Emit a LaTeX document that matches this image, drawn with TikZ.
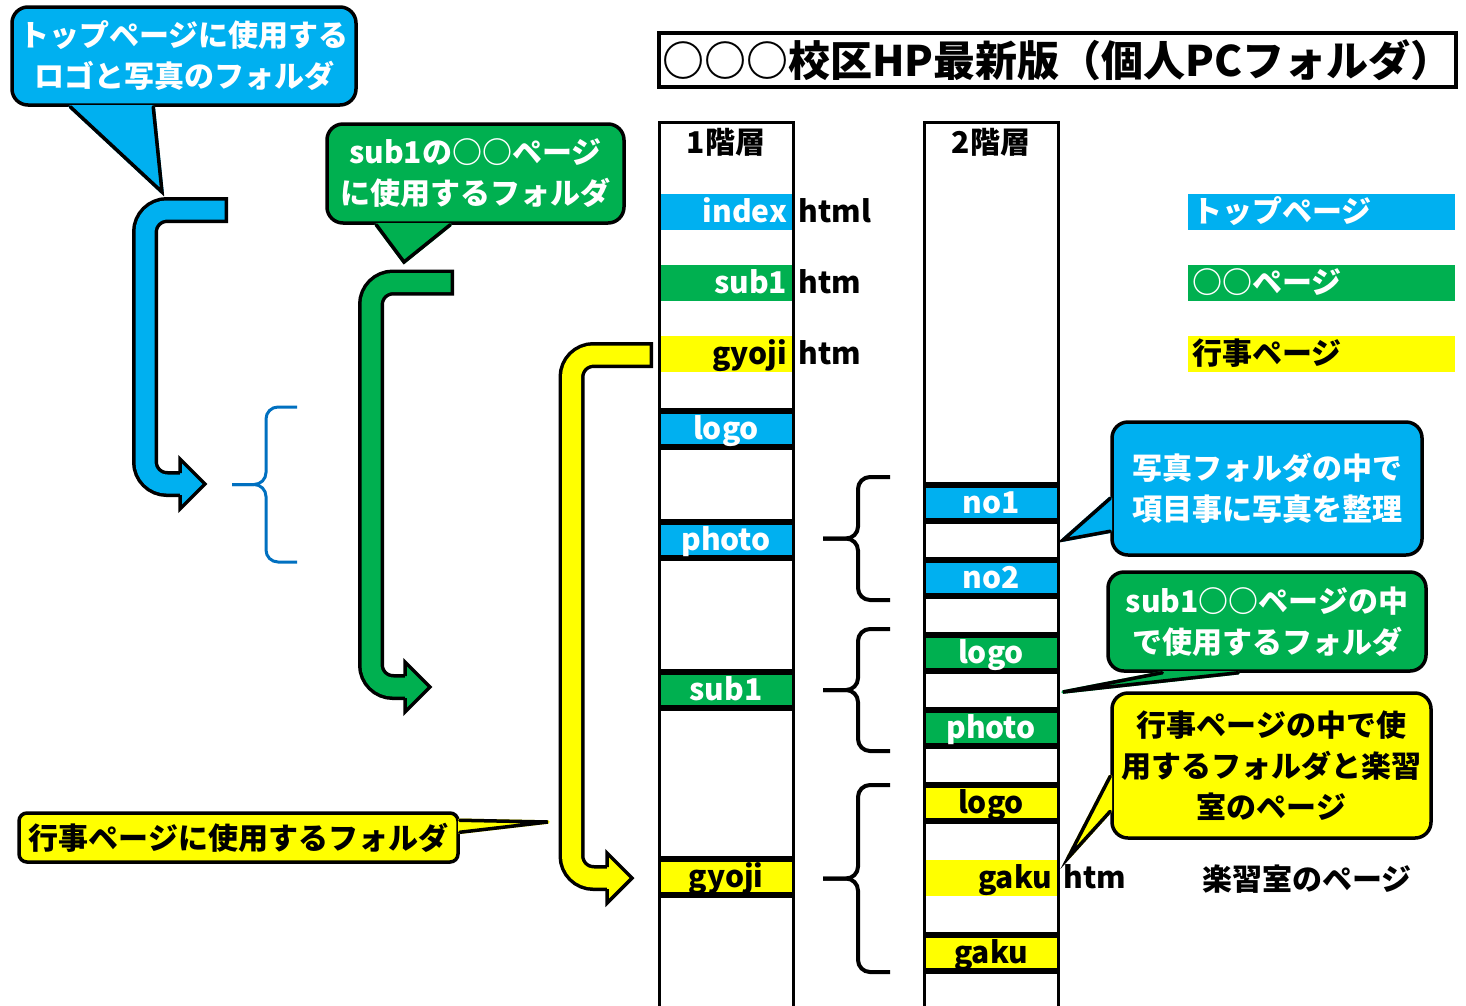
\documentclass[tikz,border=0pt]{standalone}
\usepackage{fontspec}
\setmainfont{Noto Sans CJK JP}
\usetikzlibrary{positioning}
\definecolor{hpblue}{HTML}{00B0F0}
\definecolor{hpgreen}{HTML}{00B050}
\definecolor{hpyellow}{HTML}{FFFF00}
\definecolor{bracblue}{HTML}{0070C0}
%% tail of a speech bubble: colour, base point, tip, base point
\newcommand{\bubbletail}[4]{%
  \filldraw[fill=#1,draw=#1,line width=3.5pt,line join=round] (#2) -- (#3) -- (#4) -- cycle;
  \draw[line width=3.5pt,line cap=round] (#2) -- (#3) -- (#4);}
\begin{document}
\begin{tikzpicture}[x=1pt,y=-1pt,
    every node/.style={font=\fontsize{30pt}{41pt}\selectfont\bfseries},
    file/.style={minimum height=36pt,text width=122pt,inner xsep=6pt,inner ysep=0pt,align=right,text height=24pt,text depth=3pt},
    ext/.style={inner xsep=5pt,inner ysep=0pt,text height=24pt,text depth=3pt},
    folder/.style={minimum width=134pt,minimum height=42pt,inner sep=0pt,fill=black,text height=24pt,text depth=3pt,
      path picture={\fill[#1] ([yshift=-6pt]path picture bounding box.north west) rectangle ([yshift=6pt]path picture bounding box.south east);}},
    legend/.style={minimum height=36pt,text width=259pt,inner xsep=4pt,inner ysep=0pt,align=left,text height=24pt,text depth=3pt},
    bubble/.style={draw,line width=3.5pt,rounded corners=16pt,align=center,inner sep=0pt},
    brc/.style={line width=4pt,rounded corners=12pt},
    col/.style={line width=3pt}]
    \useasboundingbox[fill=white] (0,0) rectangle (1466,1005);

    %% title
    \node[draw,line width=3.5pt,minimum width=797pt,minimum height=54pt,inner sep=0pt,
      font=\fontsize{42pt}{50pt}\selectfont\bfseries] (title) at (1057.5,60) {○○○校区HP最新版（個人PCフォルダ）};

    %% 1st level
    \node[file,fill=hpblue,text=white] (idx) at (726,212) {index};
    \node[ext,right=0pt of idx] (idxext) {html};
    \node[file,fill=hpgreen,text=white] (subf) at (726,283) {sub1};
    \node[ext,right=0pt of subf] (subfext) {htm};
    \node[file,fill=hpyellow] (gyojif) at (726,354) {gyoji};
    \node[ext,right=0pt of gyojif] (gyojifext) {htm};
    \node[folder=hpblue,text=white] (logoA) at (726,428.5) {logo};
    \node[folder=hpblue,text=white] (photoA) at (726,540) {photo};
    \node[folder=hpgreen,text=white] (subA) at (726,689.5) {sub1};
    \node[folder=hpyellow] (gyojiA) at (726,877) {gyoji};

    %% 2nd level
    \node[folder=hpblue,text=white] (noone) at (991,503) {no1};
    \node[folder=hpblue,text=white] (notwo) at (991,578) {no2};
    \node[folder=hpgreen,text=white] (logoB) at (991,653) {logo};
    \node[folder=hpgreen,text=white] (photoB) at (991,728) {photo};
    \node[folder=hpyellow] (logoC) at (991,803) {logo};
    \node[file,fill=hpyellow] (gakuf) at (991,878) {gaku};
    \node[ext,right=0pt of gakuf] (gakufext) {htm};
    \node[folder=hpyellow] (gakuB) at (991,952.5) {gaku};

    %% column frames
    \draw[col] (659,1010) -- (659,122) -- (793,122) -- (793,1010);
    \draw[col] (924,1010) -- (924,122) -- (1058,122) -- (1058,1010);
    \node (hdone) at (726,142) {1階層};
    \node (hdtwo) at (991,142) {2階層};

    %% legend
    \node[legend,fill=hpblue,text=white] (lgtop) at (1321.5,212) {トップページ};
    \node[legend,fill=hpgreen,text=white] (lgsub) at (1321.5,283) {○○ページ};
    \node[legend,fill=hpyellow] (lggyoji) at (1321.5,354) {行事ページ};
    \node (lggaku) at (1307,879) {楽習室のページ};

    %% braces
    \foreach \t/\b in {477/600,629/751,785/972}{
        \draw[brc] (823,{(\t+\b)/2}) -- (858,{(\t+\b)/2}) -- (858,\t) -- (890,\t);
        \draw[brc] (823,{(\t+\b)/2}) -- (858,{(\t+\b)/2}) -- (858,\b) -- (890,\b);
    }
    \draw[brc,bracblue,line width=3pt] (232,484.5) -- (266,484.5) -- (266,407) -- (297,407);
    \draw[brc,bracblue,line width=3pt] (232,484.5) -- (266,484.5) -- (266,562) -- (297,562);

    %% bent arrows
    \foreach \c/\tx/\ty/\sx/\by/\hx in {hpblue/228/210/145/484/180,hpgreen/454/282.5/371/687/405,hpyellow/653/355/571.5/878/607}{
        \draw[line width=26pt,rounded corners=22pt] (\tx,\ty) -- (\sx,\ty) -- (\sx,\by) -- (\hx,\by);
        \draw[\c,line width=19pt,rounded corners=22pt] ({\tx-3.5},\ty) -- (\sx,\ty) -- (\sx,\by) -- ({\hx+1},\by);
        \fill[\c] (\hx,{\by-25}) -- ({\hx+25},\by) -- (\hx,{\by+25}) -- cycle;
        \draw[line width=3.5pt,line join=miter] (\hx,{\by-11}) -- (\hx,{\by-25}) -- ({\hx+25},\by) -- (\hx,{\by+25}) -- (\hx,{\by+11});
    }

    %% speech bubbles
    \node[bubble,fill=hpblue,text=white,minimum width=344pt,minimum height=98pt] (bubtop) at (184,56) {トップページに使用する\\ロゴと写真のフォルダ};
    \coordinate (tiptop) at (162,192);
    \bubbletail{hpblue}{[xshift=60pt]bubtop.south west}{tiptop}{[xshift=143pt]bubtop.south west}

    \node[bubble,fill=hpgreen,text=white,minimum width=297pt,minimum height=99pt] (bubsub) at (475.5,173.5) {sub1の○○ページ\\に使用するフォルダ};
    \coordinate (tipsub) at (404,262);
    \bubbletail{hpgreen}{[xshift=51pt]bubsub.south west}{tipsub}{[xshift=125pt]bubsub.south west}

    \node[bubble,fill=hpblue,text=white,minimum width=310pt,minimum height=133pt] (bubphoto) at (1267,488.5) {写真フォルダの中で\\項目事に写真を整理};
    \coordinate (tipphoto) at (1063,540);
    \bubbletail{hpblue}{[yshift=-78pt]bubphoto.north west}{tipphoto}{[yshift=-111pt]bubphoto.north west}

    \node[bubble,fill=hpgreen,text=white,minimum width=318pt,minimum height=99pt] (bubsubin) at (1267,621.5) {sub1○○ページの中\\で使用するフォルダ};
    \coordinate (tipsubin) at (1063,692);
    \bubbletail{hpgreen}{[xshift=56pt]bubsubin.south west}{tipsubin}{[xshift=132pt]bubsubin.south west}

    \node[bubble,fill=hpyellow,minimum width=319pt,minimum height=145pt] (bubgyoji) at (1271.5,765.5) {行事ページの中で使\\用するフォルダと楽習\\室のページ};
    \coordinate (tipgyoji) at (1068,858);
    \bubbletail{hpyellow}{[yshift=-85pt]bubgyoji.north west}{tipgyoji}{[yshift=-120pt]bubgyoji.north west}

    \node[bubble,rounded corners=8pt,fill=hpyellow,minimum width=439pt,minimum height=49pt] (bubleft) at (238.5,837.5) {行事ページに使用するフォルダ};
    \coordinate (tipleft) at (548,822);
    \bubbletail{hpyellow}{[yshift=-9pt]bubleft.north east}{tipleft}{[yshift=-21pt]bubleft.north east}
\end{tikzpicture}
\end{document}
